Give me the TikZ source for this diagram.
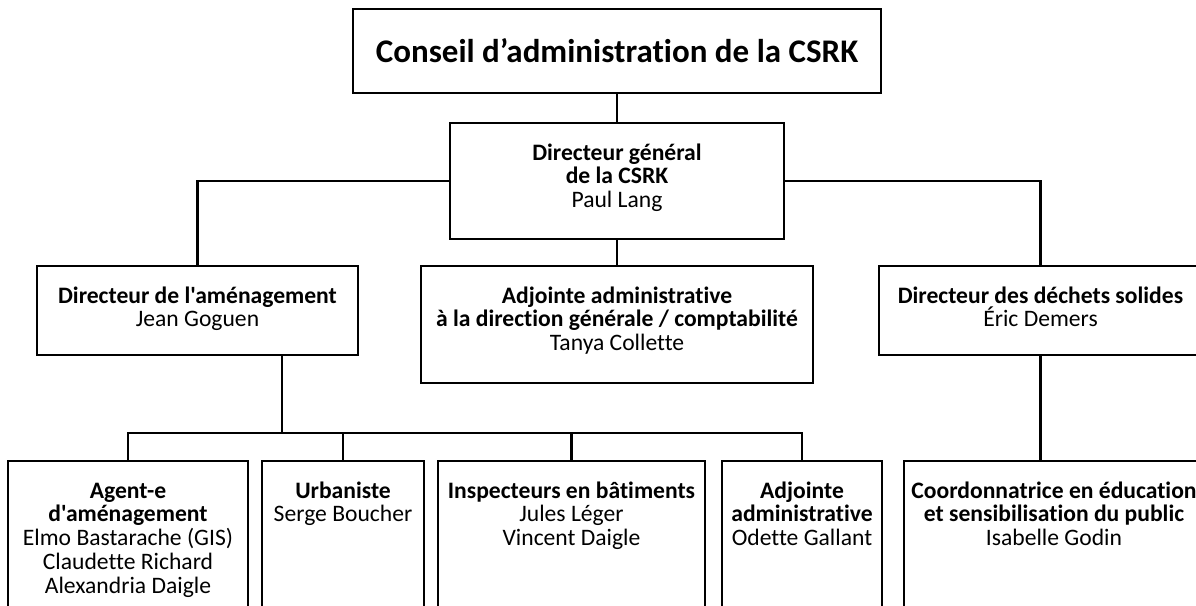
\documentclass[tikz,border=0pt]{standalone}
\usepackage{fontspec}
\setmainfont{Carlito}[Ligatures={TeXOff,CommonOff}]
\newcommand\firstline{\rule{0pt}{18pt}}
\begin{document}
\begin{tikzpicture}[x=1pt,y=-1pt,
  box/.style={draw, rectangle, inner sep=0pt, line width=2.2pt},
  txt/.style={align=center, font=\fontsize{23.6}{23.8}\selectfont, inner sep=0pt, anchor=north, yshift=-20pt},
  link/.style={line width=2.2pt}]
\useasboundingbox (0,0) rectangle (1196,605);
\clip (0,0) rectangle (1196,605);
% top level
\node[box, minimum width=528pt, minimum height=84pt, font=\fontsize{33}{40}\selectfont\bfseries] (ca) at (617,51) {Conseil d’administration de la CSRK};
\node[box, minimum width=334pt, minimum height=116pt] (dg) at (617,181) {};
\node[txt] (dgt) at (dg.north) {\firstline\textbf{Directeur général}\\\textbf{de la CSRK}\\Paul Lang};
% second level
\node[box, minimum width=321pt, minimum height=89pt] (amen) at (197.5,310.5) {};
\node[txt] (ament) at (amen.north) {\firstline\textbf{Directeur de l'aménagement}\\Jean Goguen};
\node[box, minimum width=392pt, minimum height=117pt] (adj) at (617,324.5) {};
\node[txt] (adjt) at (adj.north) {\firstline\textbf{Adjointe administrative}\\\textbf{à la direction générale / comptabilité}\\Tanya Collette};
\node[box, minimum width=323pt, minimum height=89pt] (dech) at (1040.5,310.5) {};
\node[txt] (decht) at (dech.north) {\firstline\textbf{Directeur des déchets solides}\\Éric Demers};
% third level boxes (cut by the page edge)
\node[box, minimum width=240pt, minimum height=200pt] (b1) at (128,561) {};
\node[box, minimum width=162pt, minimum height=200pt] (b2) at (343,561) {};
\node[box, minimum width=267pt, minimum height=200pt] (b3) at (571.5,561) {};
\node[box, minimum width=160pt, minimum height=200pt] (b4) at (802,561) {};
\node[box, minimum width=300pt, minimum height=200pt] (b5) at (1054,561) {};
\node[txt] (t1) at (b1.north) {\firstline\textbf{Agent-e}\\\textbf{d'aménagement}\\Elmo Bastarache (GIS)\\Claudette Richard\\Alexandria Daigle};
\node[txt] (t2) at (b2.north) {\firstline\textbf{Urbaniste}\\Serge Boucher};
\node[txt] (t3) at (b3.north) {\firstline\textbf{Inspecteurs en bâtiments}\\Jules Léger\\Vincent Daigle};
\node[txt] (t4) at (b4.north) {\firstline\textbf{Adjointe}\\\textbf{administrative}\\Odette Gallant};
\node[txt] (t5) at (b5.north) {\firstline\textbf{Coordonnatrice en éducation}\\\textbf{et sensibilisation du public}\\Isabelle Godin};
% connectors
\draw[link] (ca.south) -- (dg.north);
\draw[link] (dg.west) -| (amen.north);
\draw[link] (dg.east) -| (dech.north);
\draw[link] (dg.south) -- (adj.north);
\coordinate (bus) at (282,433);
\draw[link] (amen.south -| bus) -- (bus);
\draw[link] (b1.north) -- (b1.north |- bus) -- (b4.north |- bus) -- (b4.north);
\draw[link] (b2.north) -- (b2.north |- bus);
\draw[link] (b3.north) -- (b3.north |- bus);
\draw[link] (dech.south) -- (dech.south |- b5.north);
\end{tikzpicture}
\end{document}
